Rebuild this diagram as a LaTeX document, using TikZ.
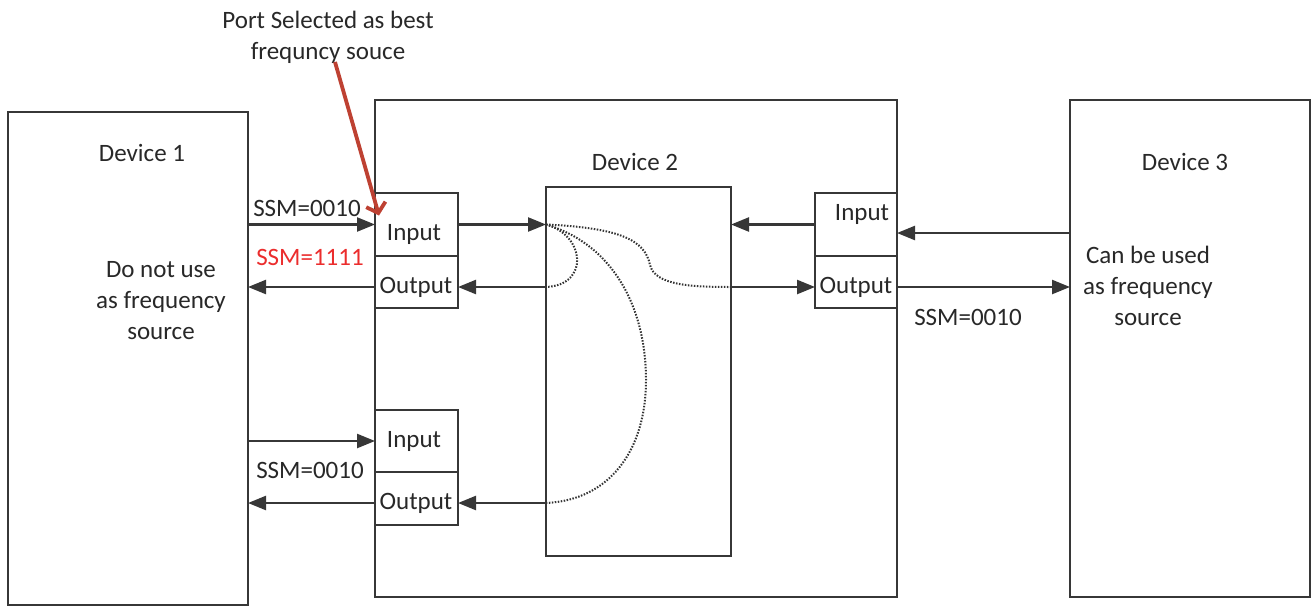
\documentclass[tikz,border=0pt]{standalone}
\usepackage{fontspec}
\setmainfont{Carlito}
\usetikzlibrary{arrows.meta,calc}
\definecolor{ln}{RGB}{55,55,55}
\definecolor{tx}{RGB}{40,40,40}
\definecolor{redarrow}{RGB}{190,65,50}
\definecolor{redtext}{RGB}{235,45,45}
\begin{document}
\begin{tikzpicture}[x=1pt,y=-1pt,
  box/.style={draw=ln,line width=2.2pt,inner sep=0pt,outer sep=0pt},
  lbl/.style={text=tx,font=\fontsize{25}{31}\selectfont,inner sep=0pt,align=center},
  conn/.style={draw=ln,line width=2.4pt,-{Triangle[length=18pt,width=14pt]}},
  dotline/.style={draw=black!80,line width=2pt,dash pattern=on 1.5pt off 1.5pt},
  redarr/.style={draw=redarrow,line width=3.8pt,-{Straight Barb[length=9pt,width=20pt]}}]
\useasboundingbox (0,0) rectangle (1313,608);
% devices
\node[box,minimum width=240pt,minimum height=493pt] (d1) at (128,358.5) {};
\node[box,minimum width=522pt,minimum height=497pt] (d2) at (636,348.5) {};
\node[box,minimum width=240pt,minimum height=497pt] (d3) at (1190,348.5) {};
\node[box,minimum width=185pt,minimum height=369pt] (core) at (638.5,371.5) {};
% ports
\node[box,minimum width=83pt,minimum height=63pt] (in1) at (416.5,224.5) {};
\node[box,minimum width=83pt,minimum height=52pt] (out1) at (416.5,282) {};
\node[box,minimum width=83pt,minimum height=62pt] (in2) at (416.5,441) {};
\node[box,minimum width=83pt,minimum height=53pt] (out2) at (416.5,498.5) {};
\node[box,minimum width=82pt,minimum height=63pt] (in3) at (856,224.5) {};
\node[box,minimum width=82pt,minimum height=52pt] (out3) at (856,282) {};
% port labels
\node[lbl] (tin1) at (414,234) {Input};
\node[lbl] (tout1) at (416,287) {Output};
\node[lbl] (tin2) at (414,441) {Input};
\node[lbl] (tout2) at (416,503) {Output};
\node[lbl] (tin3) at (862,214) {Input};
\node[lbl] (tout3) at (856,287) {Output};
% device labels
\node[lbl] (t1) at (142,153) {Device 1};
\node[lbl] (t2) at (635,162) {Device 2};
\node[lbl] (t3) at (1185,162) {Device 3};
\node[lbl] (t1b) at (161,301) {Do not use\\as frequency\\source};
\node[lbl] (t3b) at (1148,286) {Can be used\\as frequency\\source};
\node[lbl] (ssma) at (307,208) {SSM=0010};
\node[lbl,text=redtext] (ssmb) at (310,257) {SSM=1111};
\node[lbl] (ssmc) at (310,470) {SSM=0010};
\node[lbl] (ssmd) at (968,317) {SSM=0010};
\node[lbl] (sel) at (328,37) {Port Selected as best\\frequncy souce};
% helper coordinates
\coordinate (o1) at (0,287);
\coordinate (o2) at (0,503);
\coordinate (r3) at (0,233);
% connectors
\draw[conn] (d1.east |- in1.west) -- (in1.west);
\draw[conn] (in1.east) -- (core.west |- in1.east);
\draw[conn] (core.west |- o1) -- (out1.east |- o1);
\draw[conn] (out1.west |- o1) -- (d1.east |- o1);
\draw[conn] (d1.east |- in2.west) -- (in2.west);
\draw[conn] (core.west |- o2) -- (out2.east |- o2);
\draw[conn] (out2.west |- o2) -- (d1.east |- o2);
\draw[conn] (in3.west) -- (core.east |- in3.west);
\draw[conn] (d3.west |- r3) -- (d2.east |- r3);
\draw[conn] (core.east |- o1) -- (out3.west |- o1);
\draw[conn] (out3.east |- o1) -- (d3.west |- o1);
% internal dotted paths
\coordinate (src) at (core.west |- in1.west);
\draw[dotline] (src) .. controls (585,235) and (590,285) .. (core.west |- o1);
\draw[dotline] (src) .. controls (620,228) and (645,240) .. (650,265) .. controls (655,285) and (690,287) .. (core.east |- o1);
\draw[dotline] (src) .. controls (615,245) and (646,310) .. (646,380) .. controls (646,450) and (610,500) .. (core.west |- o2);
% red pointer
\coordinate (selstart) at (335,62);
\coordinate (seltip) at ($(in1.west)+(4,-9)$);
\draw[redarr] (selstart) -- (seltip);
\end{tikzpicture}
\end{document}
